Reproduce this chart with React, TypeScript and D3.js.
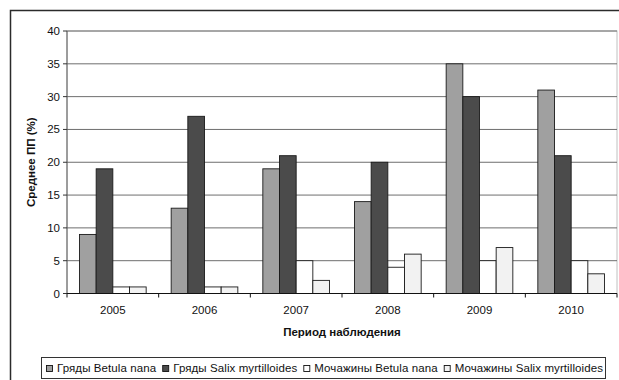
import React, { useMemo } from "react";
import * as d3 from "d3";

// Observation years and the four plot-type series (mean PP, %)
const years = ["2005", "2006", "2007", "2008", "2009", "2010"];
const seriesNames = [
  "Гряды Betula nana",
  "Гряды Salix myrtilloides",
  "Мочажины Betula nana",
  "Мочажины Salix myrtilloides",
];
const ridgeBetula = [9, 13, 19, 14, 35, 31];
const ridgeSalix = [19, 27, 21, 20, 30, 21];
const hollowBetula = [1, 1, 5, 4, 5, 5];
const hollowSalix = [1, 1, 2, 6, 7, 3];
const yTicks = [0, 5, 10, 15, 20, 25, 30, 35, 40];

const seriesValues = [ridgeBetula, ridgeSalix, hollowBetula, hollowSalix];
const fills = ["#a0a0a0", "#4b4b4b", "#ffffff", "#f2f2f2"];

const W = 619;
const H = 380;
const plot = { left: 67, right: 617, top: 31, bottom: 293.5 };
const font = "'Liberation Sans', Arial, sans-serif";
const legendFontSize = 11.5;

function measure(texts: string[], size: number): number[] {
  const canvas = document.createElement("canvas");
  const ctx = canvas.getContext("2d");
  if (!ctx) return texts.map((t) => t.length * size * 0.55);
  ctx.font = `${size}px ${font}`;
  return texts.map((t) => ctx.measureText(t).width);
}

export default function App() {
  const x = d3.scaleBand<string>().domain(years).range([plot.left, plot.right]).padding(0);
  const groupW = x.bandwidth();
  const inner = d3
    .scaleBand<number>()
    .domain(d3.range(seriesNames.length))
    .range([groupW * (0.75 / 5.5), groupW * (1 - 0.75 / 5.5)])
    .padding(0);
  const y = d3.scaleLinear().domain([0, 40]).range([plot.bottom, plot.top]);

  // Legend layout: swatch + label entries filling the legend box with even spacing
  const legendX = 41;
  const legendY = 357;
  const swatch = 6;
  const swGap = 5;
  const itemGap = 6;
  const legendStart = 46;
  const legendEnd = 603;
  const legendLayout = useMemo(() => {
    const widths = measure(seriesNames, legendFontSize);
    const chars = d3.sum(seriesNames, (n) => n.length);
    const free =
      legendEnd - legendStart - seriesNames.length * (swatch + swGap) - (seriesNames.length - 1) * itemGap;
    const spacing = Math.max(0, (free - d3.sum(widths)) / chars);
    const starts: number[] = [];
    let cx = legendStart;
    widths.forEach((w, i) => {
      starts.push(cx);
      cx += swatch + swGap + w + spacing * seriesNames[i].length + itemGap;
    });
    return { starts, spacing };
  }, []);

  return (
    <svg
      width={W}
      height={H}
      style={{ position: "absolute", left: 0, top: 0, background: "#fff" }}
      fontFamily={font}
    >
      {/* outer chart frame */}
      <rect x={10.5} y={10.5} width={W + 20} height={H + 20} fill="#fff" stroke="#2b2b2b" strokeWidth={1.5} />

      {/* plot area border */}
      <rect
        x={plot.left}
        y={plot.top}
        width={plot.right - plot.left}
        height={plot.bottom - plot.top}
        fill="none"
        stroke="#c0c0c0"
        strokeWidth={1}
      />

      {/* gridlines */}
      {yTicks.filter((t) => t > 0).map((t) => (
        <line key={t} x1={plot.left} x2={plot.right} y1={y(t)} y2={y(t)} stroke="#6e6e6e" strokeWidth={1} />
      ))}

      {/* bars */}
      {years.map((yr, i) =>
        seriesValues.map((vals, s) => {
          const bx = (x(yr) as number) + (inner(s) as number);
          return (
            <rect
              key={yr + s}
              x={bx}
              y={y(vals[i])}
              width={inner.bandwidth()}
              height={y(0) - y(vals[i])}
              fill={fills[s]}
              stroke="#1a1a1a"
              strokeWidth={0.9}
            />
          );
        })
      )}

      {/* y axis */}
      <line x1={plot.left} x2={plot.left} y1={plot.top} y2={plot.bottom} stroke="#5a5a5a" strokeWidth={1} />
      {yTicks.map((t) => (
        <g key={t}>
          <line x1={plot.left - 4} x2={plot.left} y1={y(t)} y2={y(t)} stroke="#333" />
          <text x={plot.left - 7} y={y(t)} dy="0.35em" textAnchor="end" fontSize={11.5} fill="#111">
            {t}
          </text>
        </g>
      ))}

      {/* x axis */}
      <line x1={plot.left} x2={plot.right} y1={plot.bottom} y2={plot.bottom} stroke="#111" strokeWidth={1} />
      {years.map((yr) => (
        <g key={yr}>
          <line
            x1={(x(yr) as number) + groupW}
            x2={(x(yr) as number) + groupW}
            y1={plot.bottom}
            y2={plot.bottom + 4}
            stroke="#111"
          />
          <text x={(x(yr) as number) + groupW / 2} y={314} textAnchor="middle" fontSize={11.5} fill="#111">
            {yr}
          </text>
        </g>
      ))}
      <line x1={plot.left} x2={plot.left} y1={plot.bottom} y2={plot.bottom + 4} stroke="#111" />

      {/* axis titles */}
      <text x={342} y={336} textAnchor="middle" fontSize={11.5} fontWeight="bold" fill="#111">
        Период наблюдения
      </text>
      <text
        transform={`translate(35,${(plot.top + plot.bottom) / 2}) rotate(-90)`}
        textAnchor="middle"
        fontSize={11.5}
        fontWeight="bold"
        fill="#111"
      >
        Среднее ПП (%)
      </text>

      {/* legend */}
      <rect x={legendX + 0.5} y={legendY + 0.5} width={564} height={21} fill="#fff" stroke="#333" strokeWidth={1} />
      {seriesNames.map((name, s) => (
        <g key={name}>
          <rect
            x={legendLayout.starts[s] + 0.5}
            y={legendY + 8.5}
            width={swatch}
            height={swatch}
            fill={fills[s]}
            stroke="#111"
            strokeWidth={0.9}
          />
          <text
            x={legendLayout.starts[s] + swatch + swGap}
            y={legendY + 15}
            fontSize={legendFontSize}
            letterSpacing={legendLayout.spacing}
            fill="#111"
          >
            {name}
          </text>
        </g>
      ))}
    </svg>
  );
}
